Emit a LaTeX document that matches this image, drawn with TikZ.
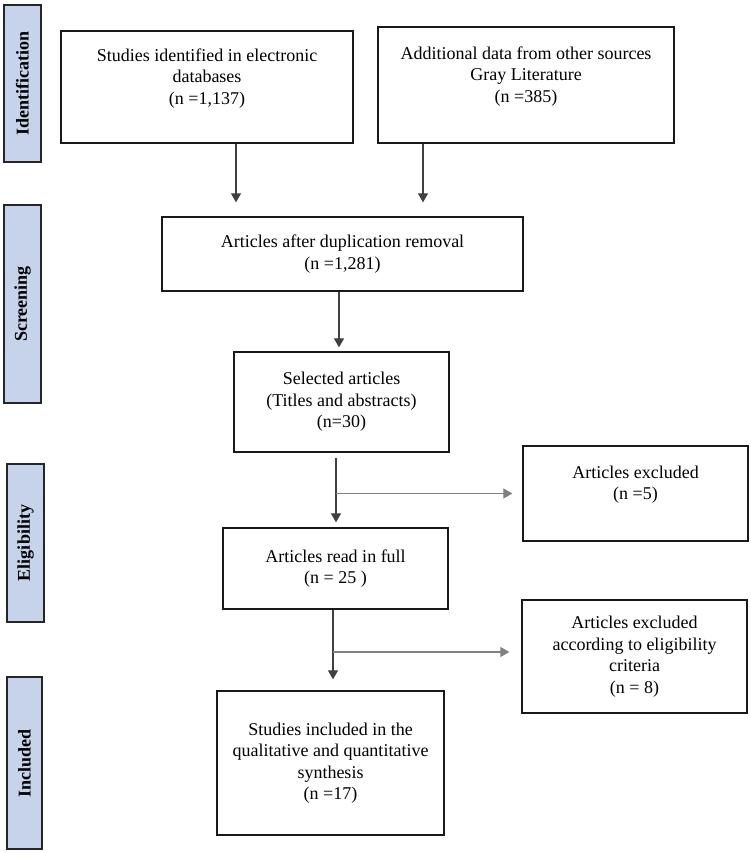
\documentclass[tikz,border=0pt]{standalone}
\usepackage{fontspec}
\setmainfont{Liberation Serif}
\usepackage{tikz}
\usetikzlibrary{arrows.meta}
\definecolor{sidefill}{RGB}{199,210,235}

\begin{document}
\begin{tikzpicture}[x=1pt,y=-1pt,
   box/.style={draw=black!90, line width=1.3pt, align=center, inner sep=0pt, font=\fontsize{18}{21.5}\selectfont},
   phase/.style={draw=black!85, line width=1.5pt, fill=sidefill, inner sep=0pt, rotate=90, font=\fontsize{18}{21.5}\selectfont\bfseries},
   arr/.style={draw=black!75, line width=1.2pt, -{Triangle[width=10pt,length=9pt]}},
   side/.style={draw=black!50, line width=1.1pt, -{Triangle[width=10pt,length=9pt]}}]
   \useasboundingbox (0,0) rectangle (750,853);

   \node[phase, minimum width=157pt, minimum height=37pt] (idbar) at (22.5,83.5) {Identification};
   \node[phase, minimum width=198pt, minimum height=37pt] (scrbar) at (22.5,304) {Screening};
   \node[phase, minimum width=158pt, minimum height=37pt] (eligbar) at (25.5,543) {Eligibility};
   \node[phase, minimum width=172pt, minimum height=35pt] (inclbar) at (24.5,763) {Included};

   \node[box, minimum width=292pt, minimum height=112pt] (found) at (207,87) {Studies identified in electronic\\databases\\(n =1,137)\\~};
   \node[box, minimum width=296pt, minimum height=116pt] (gray) at (526,85) {Additional data from other sources\\Gray Literature\\(n =385)\\~};
   \node[box, minimum width=361pt, minimum height=74pt] (dedup) at (342.5,254) {Articles after duplication removal\\(n =1,281)};
   \node[box, minimum width=215pt, minimum height=100pt] (select) at (341.5,402) {Selected articles\\(Titles and abstracts)\\(n=30)};
   \node[box, minimum width=225pt, minimum height=95pt] (excl) at (635.5,493.5) {Articles excluded\\(n =5)\\~};
   \node[box, minimum width=225pt, minimum height=81pt] (fullread) at (335.5,568.5) {Articles read in full\\(n = 25 )};
   \node[box, minimum width=225pt, minimum height=113pt] (crit) at (634.5,656.5) {Articles excluded\\according to eligibility\\criteria\\(n = 8)};
   \node[box, minimum width=227pt, minimum height=144pt] (incl) at (330.5,763) {Studies included in the\\qualitative and quantitative\\synthesis\\(n =17)};

   \coordinate (f1) at ([xshift=29pt]found.south);
   \coordinate (g1) at ([xshift=-103pt]gray.south);
   \coordinate (d1) at ([xshift=-3.5pt]dedup.south);
   \coordinate (s1) at ([xshift=-5.5pt,yshift=-5pt]select.south);
   \coordinate (r1) at ([xshift=-2.5pt]fullread.south);
   \coordinate (c1) at ([yshift=4.5pt]crit.west);

   \draw[arr, shorten >=14pt] (f1) -- (f1 |- dedup.north);
   \draw[arr, shorten >=14pt] (g1) -- (g1 |- dedup.north);
   \draw[arr, shorten >=4pt] (d1) -- (d1 |- select.north);
   \draw[arr, shorten >=5pt] (s1) -- (s1 |- fullread.north);
   \draw[side, shorten >=10pt] (s1 |- excl.west) -- (excl.west);
   \draw[arr, shorten >=11pt] (r1) -- (r1 |- incl.north);
   \draw[side, shorten >=12pt] (r1 |- c1) -- (c1);
\end{tikzpicture}
\end{document}
